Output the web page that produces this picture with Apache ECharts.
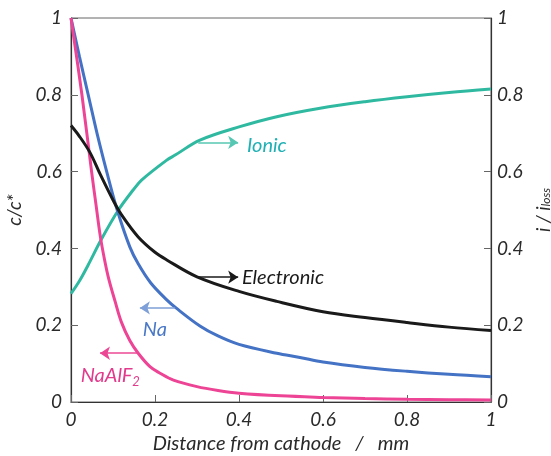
<!DOCTYPE html>
<html>
<head>
<meta charset="utf-8">
<script src="https://cdn.jsdelivr.net/npm/echarts@6/dist/echarts.min.js"></script>
<style>
  html, body { margin: 0; padding: 0; background: #fff; }
  #chart { width: 551px; height: 456px; }
</style>
</head>
<body>
<div id="chart"></div>
<script>
// Distance from cathode (mm) and concentration / current profiles
const naAlF2X = [0, 0.026, 0.049, 0.06, 0.07, 0.08, 0.09, 0.105, 0.12, 0.14, 0.16, 0.188, 0.212, 0.244, 0.3, 0.35, 0.4, 0.5, 0.6, 0.7, 0.8, 0.9, 1];
const naAlF2Y = [1, 0.8, 0.6, 0.51, 0.43, 0.37, 0.32, 0.262, 0.208, 0.16, 0.127, 0.092, 0.075, 0.057, 0.04, 0.03, 0.023, 0.016, 0.012, 0.009, 0.007, 0.006, 0.005];

const naX = [0, 0.02, 0.041, 0.063, 0.085, 0.11, 0.14, 0.16, 0.19, 0.228, 0.25, 0.307, 0.35, 0.4, 0.49, 0.545, 0.6, 0.7, 0.8, 0.9, 1];
const naY = [1, 0.9, 0.8, 0.695, 0.60, 0.50, 0.404, 0.36, 0.31, 0.266, 0.245, 0.198, 0.172, 0.15, 0.127, 0.116, 0.104, 0.09, 0.08, 0.072, 0.066];

const electronicX = [0, 0.02, 0.045, 0.07, 0.1, 0.12, 0.16, 0.2, 0.228, 0.3, 0.4, 0.49, 0.6, 0.7, 0.8, 0.9, 1];
const electronicY = [0.72, 0.692, 0.65, 0.592, 0.526, 0.488, 0.43, 0.39, 0.37, 0.326, 0.288, 0.262, 0.235, 0.22, 0.207, 0.195, 0.186];

const ionicX = [0, 0.02, 0.04, 0.073, 0.113, 0.148, 0.168, 0.228, 0.248, 0.307, 0.402, 0.49, 0.593, 0.7, 0.8, 0.9, 1];
const ionicY = [0.282, 0.315, 0.355, 0.425, 0.50, 0.552, 0.578, 0.63, 0.643, 0.682, 0.717, 0.743, 0.765, 0.782, 0.795, 0.806, 0.815];

const tickValues = [0, 0.2, 0.4, 0.6, 0.8, 1];

const pairs = (xs, ys) => xs.map((x, i) => [x, ys[i]]);

const FONT = 'Lato';
const TXT = '#2a2a2a';

// Pointer arrow from a curve toward the axis it belongs to, plus its caption
function callout(from, to, lineColor, textPos, text, textColor) {
  return {
    markLine: {
      silent: true,
      symbol: ['none', 'arrow'],
      symbolSize: 10,
      label: { show: false },
      lineStyle: { color: lineColor, width: 1.6, type: 'solid' },
      data: [[{ coord: from }, { coord: to }]]
    },
    markPoint: {
      silent: true,
      symbol: 'circle',
      symbolSize: 0,
      label: {
        show: true,
        position: 'right',
        distance: 0,
        formatter: text,
        color: textColor,
        fontFamily: FONT,
        fontStyle: 'italic',
        fontSize: 20,
        rich: {
          sub: { fontFamily: FONT, fontStyle: 'italic', fontSize: 13, color: textColor, verticalAlign: 'bottom', padding: [11, 0, 0, 0] }
        }
      },
      data: [{ coord: textPos }]
    }
  };
}

const axisLabel = { color: TXT, fontFamily: FONT, fontStyle: 'italic', fontSize: 19 };
const nameStyle = {
  color: TXT, fontFamily: FONT, fontStyle: 'italic', fontSize: 19,
  rich: { sub: { color: TXT, fontFamily: FONT, fontStyle: 'italic', fontSize: 12, padding: [5, 0, 0, 0] } }
};

const chart = echarts.init(document.getElementById('chart'), null, { renderer: 'canvas' });

chart.setOption({
  animation: false,
  backgroundColor: '#fff',
  grid: {
    left: 71, right: 60, top: 18, bottom: 54,
    containLabel: false, outerBoundsMode: 'none',
    show: true, borderColor: '#666', borderWidth: 1
  },
  xAxis: {
    type: 'value', min: 0, max: 1, interval: 0.2,
    name: 'Distance from cathode   /   mm',
    nameLocation: 'middle', nameGap: 32,
    nameTextStyle: Object.assign({}, nameStyle, { fontSize: 20 }),
    axisLine: { show: true, lineStyle: { color: '#333', width: 1.2 } },
    axisTick: { show: true, inside: true, length: 7, lineStyle: { color: '#666' } },
    axisLabel: Object.assign({ margin: 8 }, axisLabel),
    splitLine: { show: false }
  },
  yAxis: [
    {
      type: 'value', min: 0, max: 1, interval: 0.2, position: 'left',
      name: 'c/c*', nameLocation: 'middle', nameGap: 43, nameRotate: 90, nameTextStyle: nameStyle,
      axisLine: { show: true, lineStyle: { color: '#333', width: 1.2 } },
      axisTick: { show: true, inside: true, length: 7, lineStyle: { color: '#666' } },
      axisLabel: Object.assign({ margin: 9 }, axisLabel),
      splitLine: { show: false }
    },
    {
      type: 'value', min: 0, max: 1, interval: 0.2, position: 'right',
      name: 'i / i{sub|loss}', nameLocation: 'middle', nameGap: 37, nameRotate: 90, nameTextStyle: nameStyle,
      axisLine: { show: true, lineStyle: { color: '#333', width: 1.2 } },
      axisTick: { show: true, inside: true, length: 7, lineStyle: { color: '#666' } },
      axisLabel: Object.assign({ margin: 6 }, axisLabel),
      splitLine: { show: false }
    }
  ],
  series: [
    Object.assign({
      name: 'Ionic', type: 'line', yAxisIndex: 1, showSymbol: false,
      smooth: 0.35,
      lineStyle: { color: '#2fb9a1', width: 3 }, itemStyle: { color: '#2fb9a1' },
      data: pairs(ionicX, ionicY), z: 3
    }, callout([0.303, 0.676], [0.398, 0.676], '#56c7b2', [0.419, 0.669], 'Ionic', '#1fb0b4')),
    Object.assign({
      name: 'Electronic', type: 'line', yAxisIndex: 1, showSymbol: false,
      smooth: 0.35,
      lineStyle: { color: '#1a1a1a', width: 3 }, itemStyle: { color: '#1a1a1a' },
      data: pairs(electronicX, electronicY), z: 4
    }, callout([0.303, 0.325], [0.398, 0.325], '#1a1a1a', [0.407, 0.325], 'Electronic', '#1a1a1a')),
    Object.assign({
      name: 'Na', type: 'line', yAxisIndex: 0, showSymbol: false,
      smooth: 0.35,
      lineStyle: { color: '#4472c4', width: 3 }, itemStyle: { color: '#4472c4' },
      data: pairs(naX, naY), z: 3
    }, callout([0.248, 0.245], [0.164, 0.245], '#7e9fd7', [0.171, 0.1875], 'Na', '#4a78c8')),
    Object.assign({
      name: 'NaAlF2', type: 'line', yAxisIndex: 0, showSymbol: false,
      smooth: 0.35,
      lineStyle: { color: '#ed4496', width: 3 }, itemStyle: { color: '#ed4496' },
      data: pairs(naAlF2X, naAlF2Y), z: 3
    }, callout([0.16, 0.127], [0.069, 0.127], '#ec4794', [0.023, 0.068], 'NaAlF{sub|2}', '#e23a8c'))
  ]
});
</script>
</body>
</html>
